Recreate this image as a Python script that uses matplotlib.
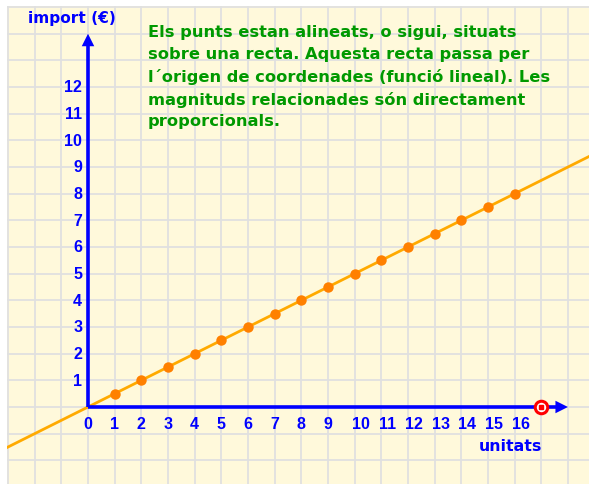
import matplotlib
matplotlib.use("Agg")
import matplotlib.pyplot as plt
import numpy as np

# dades: unitats i import (€)
unitats = [1, 2, 3, 4, 5, 6, 7, 8, 9, 10, 11, 12, 13, 14, 15, 16]
imports = [0.5, 1, 1.5, 2, 2.5, 3, 3.5, 4, 4.5, 5, 5.5, 6, 6.5, 7, 7.5, 8]
preu_unitat = 0.5
x_ticks = list(range(0, 17))
y_ticks = list(range(1, 13))
punt_vermell = (17, 0)

text_verd = ("Els punts estan alineats, o sigui, situats\n"
             "sobre una recta. Aquesta recta passa per\n"
             "l´origen de coordenades (funció lineal). Les\n"
             "magnituds relacionades són directament\n"
             "proporcionals.")

BLUE = "#0000ff"
NUM_FONT = "Liberation Sans"
TXT_FONT = "DejaVu Sans"

fig = plt.figure(figsize=(5.89, 4.85), dpi=100)
fig.patch.set_facecolor("white")
ax = fig.add_axes([7 / 589, 0, 582 / 589, 478 / 485])
ax.set_facecolor("#fff9db")

u = 26.67
ax.set_xlim((7 - 88) / u, (589 - 88) / u)
ax.set_ylim((408 - 485) / u, (408 - 7) / u)

for s in ax.spines.values():
    s.set_visible(False)
ax.set_xticks([])
ax.set_yticks([])

# quadricula
for gx in range(-3, 19):
    ax.axvline(gx, color="#e0e0e0", lw=1.3, zorder=0)
for gy in range(-2, 16):
    ax.axhline(gy, color="#e0e0e0", lw=1.3, zorder=0)

# recta y = 0.5 x
xs = np.array(ax.get_xlim())
ax.plot(xs, preu_unitat * xs, color="#ffaa00", lw=2, zorder=3)

# eixos
ax.plot([0, 17.6], [0, 0], color=BLUE, lw=2.6, zorder=4, solid_capstyle="butt")
ax.plot([0, 0], [0, 13.7], color=BLUE, lw=2.6, zorder=4, solid_capstyle="butt")
ax.annotate("", xy=(18.1, 0), xytext=(17.5, 0),
            arrowprops=dict(arrowstyle="-|>,head_length=0.9,head_width=0.45",
                            color=BLUE, lw=0), zorder=5)
ax.annotate("", xy=(0, 14.1), xytext=(0, 13.5),
            arrowprops=dict(arrowstyle="-|>,head_length=0.9,head_width=0.45",
                            color=BLUE, lw=0), zorder=5)

# punts
ax.plot(unitats, imports, "o", color="#ff8000", ms=7.5, mec="none", zorder=6)
ax.plot(*punt_vermell, "o", ms=9, mfc="white", mec="#ff0000", mew=2.2, zorder=7)
ax.plot(*punt_vermell, "s", ms=2.5, color="#ff0000", zorder=8)

# etiquetes dels eixos
for t in x_ticks:
    dx = 0.22 if t >= 10 else 0
    ax.text(t + dx, -0.6, str(t), color=BLUE, fontsize=11.5, fontweight="bold",
            family=NUM_FONT, ha="center", va="center")
for t in y_ticks:
    ax.text(-0.22, t, str(t), color=BLUE, fontsize=11.5, fontweight="bold",
            family=NUM_FONT, ha="right", va="center")

ax.text(-0.62, 14.6, "import (€)", color=BLUE, fontsize=11.1, fontweight="bold",
        family=TXT_FONT, ha="center", va="center")
ax.text(15.85, -1.45, "unitats", color=BLUE, fontsize=11.3, fontweight="bold",
        family=TXT_FONT, ha="center", va="center")

ax.text(2.25, 14.35, text_verd, color="#009900", fontsize=11.7, fontweight="bold",
        family=TXT_FONT, ha="left", va="top", linespacing=1.54)

fig.savefig("out.png", dpi=100)
